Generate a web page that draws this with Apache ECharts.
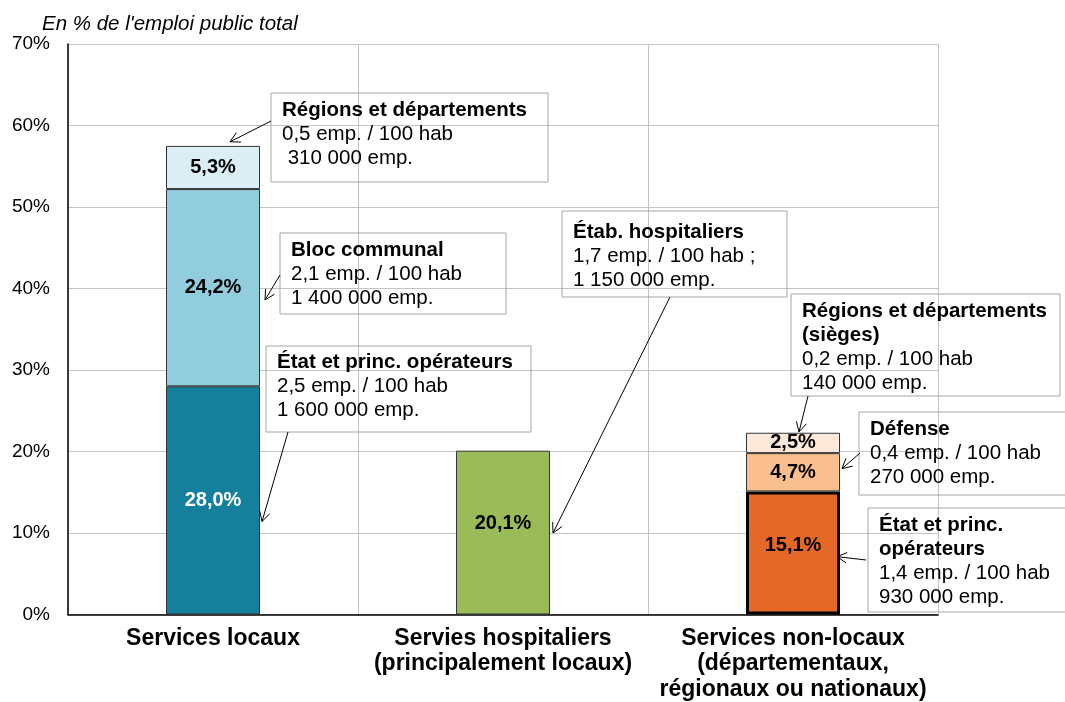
<!DOCTYPE html>
<html>
<head>
<meta charset="utf-8">
<script src="https://cdn.jsdelivr.net/npm/echarts@6/dist/echarts.min.js"></script>
<style>
html, body { margin: 0; padding: 0; background: #fff; }
#chart { width: 1065px; height: 702px; }
</style>
</head>
<body>
<div id="chart"></div>
<script>
// données
var categories = ['Services locaux', 'Servies hospitaliers\n(principalement locaux)', 'Services non-locaux\n(départementaux,\nrégionaux ou nationaux)'];
var etatValues = [28.0, 20.1, 15.1];     // État / étab. hospitaliers
var milieuValues = [24.2, null, 4.7];    // Bloc communal / Défense
var hautValues = [5.3, null, 2.5];       // Régions et départements
var yMax = 70;
var yStep = 10;

var noteTexts = [
  ['Régions et départements', '0,5 emp. / 100 hab', ' 310 000 emp.'],
  ['Bloc communal', '2,1 emp. / 100 hab', '1 400 000 emp.'],
  ['État et princ. opérateurs', '2,5 emp. / 100 hab', '1 600 000 emp.'],
  ['Étab. hospitaliers', '1,7 emp. / 100 hab ;', '1 150 000 emp.'],
  ['Régions et départements', '(sièges)', '0,2 emp. / 100 hab', '140 000 emp.'],
  ['Défense', '0,4 emp. / 100 hab', '270 000 emp.'],
  ['État et princ.', 'opérateurs', '1,4 emp. / 100 hab', '930 000 emp.']
];
// nombre de lignes en gras pour chaque encadré
var noteBold = [1, 1, 1, 1, 2, 1, 2];
// point visé par la flèche : [catégorie, valeur]
var noteTargets = [[0, 58.0], [0, 38.6], [0, 11.4], [1, 10.0], [2, 22.4], [2, 17.9], [2, 7.1]];

var baseColors = ['#15809b', '#9bbb59', '#e46826'];
var midColors = ['#92cddd', null, '#f9bf8f'];
var topColors = ['#dbeef4', null, '#fde9d9'];

var FONT = 'Liberation Sans, Arial, sans-serif';

function fmt(v) { return v.toFixed(1).replace('.', ',') + '%'; }

function items(values, colors, isBase) {
  return values.map(function (v, i) {
    if (v === null) return null;
    var it = { value: v, itemStyle: { color: colors[i] } };
    if (isBase && i === 0) it.label = { color: '#fff' };
    if (isBase && i === 1) it.label = { offset: [0, -9] };
    if (isBase && i === 2) { it.itemStyle.borderColor = '#000'; it.itemStyle.borderWidth = 3; it.label = { offset: [0, -7] }; }
    return it;
  });
}

var chart = echarts.init(document.getElementById('chart'));
var barLabel = {
  show: true, position: 'inside', fontFamily: FONT,
  fontSize: 20, fontWeight: 'bold', color: '#000',
  formatter: function (p) { return fmt(p.value); }
};
var barStyle = { borderColor: '#333', borderWidth: 1 };

chart.setOption({
  animation: false,
  title: {
    text: "En % de l'emploi public total", left: 37, top: 9,
    textStyle: { fontFamily: FONT, fontSize: 20.5, fontStyle: 'italic', fontWeight: 'normal', color: '#000' }
  },
  grid: { left: 68, right: 127, top: 44, bottom: 87, containLabel: false },
  xAxis: {
    type: 'category', data: categories,
    axisLine: { lineStyle: { color: '#000', width: 1.5 } },
    axisTick: { show: false },
    splitLine: { show: true, lineStyle: { color: '#c4c4c4', width: 1 } },
    axisLabel: {
      interval: 0, margin: 11, color: '#000', fontFamily: FONT,
      fontSize: 23, fontWeight: 'bold', lineHeight: 25.5
    }
  },
  yAxis: {
    type: 'value', min: 0, max: yMax, interval: yStep,
    axisLine: { show: true, lineStyle: { color: '#000', width: 1.5 } },
    axisTick: { show: false },
    splitLine: { lineStyle: { color: '#c4c4c4', width: 1 } },
    axisLabel: {
      margin: 18, color: '#000', fontFamily: FONT, fontSize: 19,
      formatter: function (v) { return v + '%'; }
    }
  },
  series: [
    { type: 'bar', stack: 'total', barWidth: 94, data: items(etatValues, baseColors, true), itemStyle: barStyle, label: barLabel },
    { type: 'bar', stack: 'total', barWidth: 94, data: items(milieuValues, midColors, false), itemStyle: barStyle, label: barLabel },
    { type: 'bar', stack: 'total', barWidth: 94, data: items(hautValues, topColors, false), itemStyle: barStyle, label: barLabel }
  ]
});

// encadrés et flèches
var boxes = [
  { x: 271, y: 93, w: 277, h: 89, ty: 110, from: [271, 121], dx: 17 },
  { x: 280, y: 233, w: 226, h: 81, ty: 250, from: [280, 275], dx: 52 },
  { x: 266, y: 346, w: 265, h: 86, ty: 362, from: [288, 432], dx: 49 },
  { x: 562, y: 211, w: 225, h: 86, ty: 232, from: [670, 297], dx: 50 },
  { x: 791, y: 294, w: 269, h: 102, ty: 311, from: [808, 396], dx: 6 },
  { x: 859, y: 412, w: 230, h: 83, ty: 429, from: [860, 453], dx: 49 },
  { x: 868, y: 508, w: 230, h: 104, ty: 525, from: [866, 560], dx: 44 }
];

var graphics = [];
boxes.forEach(function (b, k) {
  graphics.push({ type: 'rect', shape: { x: b.x, y: b.y, width: b.w, height: b.h }, style: { fill: 'transparent', stroke: '#a6a6a6', lineWidth: 1 }, z: 10 });
  noteTexts[k].forEach(function (t, j) {
    graphics.push({
      type: 'text', x: b.x + 11, y: b.ty + j * 24, z: 11,
      style: {
        text: t, fill: '#000', fontSize: 20.5, fontFamily: FONT,
        fontWeight: j < noteBold[k] ? 'bold' : 'normal', verticalAlign: 'middle', align: 'left'
      }
    });
  });
  var p = chart.convertToPixel({ xAxisIndex: 0, yAxisIndex: 0 }, noteTargets[k]);
  var end = [p[0] + b.dx, p[1]];
  var dxv = end[0] - b.from[0], dyv = end[1] - b.from[1];
  var len = Math.sqrt(dxv * dxv + dyv * dyv);
  var ux = dxv / len, uy = dyv / len;
  var a = 28 * Math.PI / 180, L = 11;
  function back(sign) {
    var c = Math.cos(sign * a), s = Math.sin(sign * a);
    var rx = ux * c - uy * s, ry = ux * s + uy * c;
    return [end[0] - rx * L, end[1] - ry * L];
  }
  graphics.push({ type: 'line', shape: { x1: b.from[0], y1: b.from[1], x2: end[0], y2: end[1] }, style: { stroke: '#000', lineWidth: 1 }, z: 12 });
  graphics.push({ type: 'polyline', shape: { points: [back(1), end, back(-1)] }, style: { stroke: '#000', lineWidth: 1, fill: null }, z: 12 });
});
chart.setOption({ graphic: graphics });
</script>
</body>
</html>
